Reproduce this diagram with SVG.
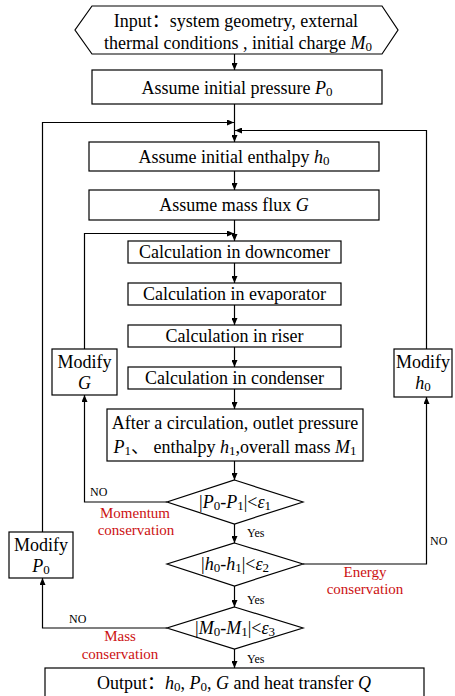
<svg xmlns="http://www.w3.org/2000/svg" width="455" height="696" viewBox="0 0 455 696">
<defs>
<marker id="ah" markerWidth="7" markerHeight="6" refX="7" refY="3" orient="auto" markerUnits="userSpaceOnUse">
<path d="M0,0 L7,3 L0,6 Z" fill="#000"/>
</marker>
<style>
.b{fill:#fff;stroke:#000;stroke-width:1.2}
.t{font-family:"Liberation Serif","Times New Roman","Noto Sans CJK SC",serif;font-size:18px;fill:#000;text-anchor:middle}
.s{font-family:"Liberation Serif","Times New Roman",serif;font-size:12px;fill:#000}
.r{font-family:"Liberation Serif","Times New Roman",serif;font-size:15px;fill:#cc1111;text-anchor:middle}
.i{font-style:italic}
.c{fill:none;stroke:#000;stroke-width:1.2}
.a{marker-end:url(#ah)}
</style>
</defs>
<rect width="455" height="696" fill="#fff"/>
<g id="connectors">
<path class="c a" d="M234.5,54 V70"/>
<path class="c a" d="M234.5,104 V142"/>
<path class="c a" d="M234.5,171 V190"/>
<path class="c a" d="M234.5,220 V241"/>
<path class="c a" d="M234.5,263 V283"/>
<path class="c a" d="M234.5,305 V325"/>
<path class="c a" d="M234.5,347 V367"/>
<path class="c a" d="M234.5,389 V409"/>
<path class="c a" d="M234.5,461 V480"/>
<path class="c a" d="M234.5,523 V543"/>
<path class="c a" d="M234.5,586 V607"/>
<path class="c a" d="M234.5,648 V668"/>
<path class="c a" d="M42.5,532 V122.5 H234"/>
<path class="c a" d="M426.5,349 V130.5 H235"/>
<path class="c a" d="M84.5,349 V233.5 H234"/>
<path class="c a" d="M167,502 H84.5 V395"/>
<path class="c a" d="M303,564 H426.5 V397"/>
<path class="c a" d="M167,628 H42.5 V578"/>
</g>
<g id="input">
<path class="b" d="M92,6 H382 L398,30 L382,54 H92 L75,30 Z"/>
<text class="t" x="236" y="27">Input：system geometry, external</text>
<text class="t" x="238" y="49">thermal conditions , initial charge <tspan class="i">M</tspan><tspan font-size="13" dy="2">0</tspan></text>
</g>
<g id="p0">
<rect class="b" x="92" y="70" width="290" height="34"/>
<text class="t" x="237" y="94">Assume initial pressure <tspan class="i">P</tspan><tspan font-size="13" dy="2">0</tspan></text>
</g>
<g id="h0">
<rect class="b" x="89" y="142" width="290" height="29"/>
<text class="t" x="234" y="163">Assume initial enthalpy <tspan class="i">h</tspan><tspan font-size="13" dy="2">0</tspan></text>
</g>
<g id="g">
<rect class="b" x="89" y="190" width="290" height="30"/>
<text class="t" x="234" y="211">Assume mass flux <tspan class="i">G</tspan></text>
</g>
<g id="downcomer">
<rect class="b" x="128" y="241" width="213" height="22"/>
<text class="t" x="234.5" y="258">Calculation in downcomer</text>
</g>
<g id="evaporator">
<rect class="b" x="128" y="283" width="213" height="22"/>
<text class="t" x="234.5" y="300">Calculation in evaporator</text>
</g>
<g id="riser">
<rect class="b" x="128" y="325" width="213" height="22"/>
<text class="t" x="234.5" y="342">Calculation in riser</text>
</g>
<g id="condenser">
<rect class="b" x="128" y="367" width="213" height="22"/>
<text class="t" x="234.5" y="384">Calculation in condenser</text>
</g>
<g id="circulation">
<rect class="b" x="107" y="409" width="256" height="52"/>
<text class="t" x="235" y="429">After a circulation, outlet pressure</text>
<text class="t" x="235" y="453"><tspan class="i">P</tspan><tspan font-size="13" dy="2">1</tspan><tspan dy="-2">、 enthalpy </tspan><tspan class="i">h</tspan><tspan font-size="13" dy="2">1</tspan><tspan dy="-2">,overall mass </tspan><tspan class="i">M</tspan><tspan font-size="13" dy="2">1</tspan></text>
</g>
<g id="modifyG">
<rect class="b" x="52" y="349" width="65" height="46"/>
<text class="t" x="84.5" y="368">Modify</text>
<text class="t i" x="84.5" y="389">G</text>
</g>
<g id="modifyH">
<rect class="b" x="394" y="349" width="58" height="48"/>
<text class="t" x="423" y="368">Modify</text>
<text class="t" x="423" y="389"><tspan class="i">h</tspan><tspan font-size="13" dy="2">0</tspan></text>
</g>
<g id="modifyP">
<rect class="b" x="9" y="532" width="64" height="46"/>
<text class="t" x="41" y="551">Modify</text>
<text class="t" x="41" y="572"><tspan class="i">P</tspan><tspan font-size="13" dy="2">0</tspan></text>
</g>
<g id="d1">
<path class="b" d="M234.5,480 L303,502 L234.5,524 L167,502 Z"/>
<text class="t" x="235" y="508">|<tspan class="i">P</tspan><tspan font-size="13" dy="2">0</tspan><tspan dy="-2">-</tspan><tspan class="i">P</tspan><tspan font-size="13" dy="2">1</tspan><tspan dy="-2">|&lt;</tspan><tspan class="i">ε</tspan><tspan font-size="13" dy="2">1</tspan></text>
</g>
<g id="d2">
<path class="b" d="M234.5,543 L303,564 L234.5,586 L167,564 Z"/>
<text class="t" x="235" y="570">|<tspan class="i">h</tspan><tspan font-size="13" dy="2">0</tspan><tspan dy="-2">-</tspan><tspan class="i">h</tspan><tspan font-size="13" dy="2">1</tspan><tspan dy="-2">|&lt;</tspan><tspan class="i">ε</tspan><tspan font-size="13" dy="2">2</tspan></text>
</g>
<g id="d3">
<path class="b" d="M234.5,607 L303,628 L234.5,649 L167,628 Z"/>
<text class="t" x="235" y="634">|<tspan class="i">M</tspan><tspan font-size="13" dy="2">0</tspan><tspan dy="-2">-</tspan><tspan class="i">M</tspan><tspan font-size="13" dy="2">1</tspan><tspan dy="-2">|&lt;</tspan><tspan class="i">ε</tspan><tspan font-size="13" dy="2">3</tspan></text>
</g>
<g id="output">
<rect class="b" x="45" y="668" width="379" height="32"/>
<text class="t" x="234" y="689">Output：<tspan class="i">h</tspan><tspan font-size="13" dy="2">0</tspan><tspan dy="-2">, </tspan><tspan class="i">P</tspan><tspan font-size="13" dy="2">0</tspan><tspan dy="-2">, </tspan><tspan class="i">G</tspan><tspan> and heat transfer </tspan><tspan class="i">Q</tspan></text>
</g>
<g id="labels">
<text class="s" x="90" y="496">NO</text>
<text class="s" x="247" y="537">Yes</text>
<text class="s" x="430" y="545">NO</text>
<text class="s" x="247" y="604">Yes</text>
<text class="s" x="69" y="623">NO</text>
<text class="s" x="247" y="663">Yes</text>
<text class="r" x="135" y="518">Momentum</text>
<text class="r" x="136" y="535">conservation</text>
<text class="r" x="365" y="577">Energy</text>
<text class="r" x="365" y="594">conservation</text>
<text class="r" x="120" y="641">Mass</text>
<text class="r" x="120" y="659">conservation</text>
</g>
</svg>
